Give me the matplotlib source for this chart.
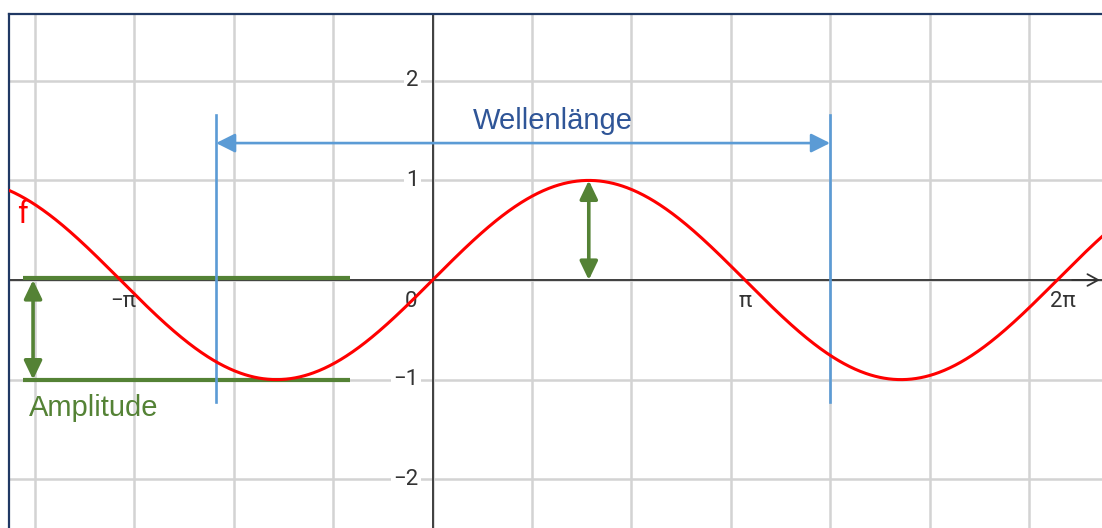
import numpy as np
import matplotlib
matplotlib.use("Agg")
import matplotlib.pyplot as plt

# ---- data ----
amplitude = 1.0
x_ticks = [-np.pi, 0, np.pi, 2 * np.pi]
x_tick_labels = ["\u2212\u03c0", "0", "\u03c0", "2\u03c0"]
y_ticks = [2, 1, -1, -2]
y_tick_labels = ["2", "1", "\u22121", "\u22122"]
wave_marker_x = [-2.179, 3.998]        # blue vertical markers
wave_marker_y = [-1.225, 1.657]
wave_arrow_y = 1.375
amp_lines_y = [0.02, -1.0]
amp_lines_x = [-4.12, -0.831]
amp_arrow_x = -4.02
peak_x = np.pi / 2

xmin, xmax = -4.262, 6.734
ymin, ymax = -2.490, 2.671

W, H = 1102, 528
fig = plt.figure(figsize=(W / 100, H / 100), dpi=100)
ax = fig.add_axes([9 / W, 0, (W - 9) / W, (H - 14) / H])
ax.set_xlim(xmin, xmax)
ax.set_ylim(ymin, ymax)

for s in ["right", "bottom"]:
    ax.spines[s].set_visible(False)
for s in ["left", "top"]:
    ax.spines[s].set_color("#203864")
    ax.spines[s].set_linewidth(1.6)
ax.set_xticks([])
ax.set_yticks([])

grid_c = "#d3d3d3"
for gx in range(-4, 7):
    ax.axvline(gx, color=grid_c, lw=1.8, zorder=0)
for gy in range(-2, 3):
    ax.axhline(gy, color=grid_c, lw=1.8, zorder=0)

axis_c = "#333333"
ax.axhline(0, color=axis_c, lw=1.3, zorder=1)
ax.axvline(0, color=axis_c, lw=1.3, zorder=1)
ax.annotate("", xy=(xmax - 0.02, 0), xytext=(xmax - 0.3, 0),
            arrowprops=dict(arrowstyle="->,head_length=0.55,head_width=0.3",
                            color=axis_c, lw=1.3, shrinkA=0, shrinkB=0,
                            mutation_scale=14), zorder=1)

font_tick = "Roboto"
x_label_shift = [0.03, -0.22, 0.0, 0.06]
for xt, lab, dx in zip(x_ticks, x_tick_labels, x_label_shift):
    ax.text(xt + dx, -0.22, lab, ha="center", va="center", fontsize=16,
            color="#333333", family=font_tick, zorder=2)
for yt, lab in zip(y_ticks, y_tick_labels):
    ax.text(-0.14, yt, lab, ha="right", va="center", fontsize=16,
            color="#333333", family=font_tick, zorder=2,
            bbox=dict(boxstyle="square,pad=0.1", fc="white", ec="none"))

# green amplitude lines & arrows
green = "#548235"
for yy in amp_lines_y:
    ax.plot(amp_lines_x, [yy, yy], color=green, lw=3.0, zorder=3,
            solid_capstyle="butt")
arrow_green = dict(arrowstyle="<|-|>,head_length=0.75,head_width=0.36",
                   color=green, lw=2.6, shrinkA=0, shrinkB=0,
                   mutation_scale=15)
ax.annotate("", xy=(amp_arrow_x, 0), xytext=(amp_arrow_x, -amplitude),
            arrowprops=arrow_green, zorder=3)
ax.annotate("", xy=(peak_x, amplitude), xytext=(peak_x, 0),
            arrowprops=arrow_green, zorder=3)
ax.text(-4.06, -1.285, "Amplitude", ha="left", va="center", fontsize=21,
        color=green, family="Liberation Sans", zorder=3)

# blue wavelength markers
blue = "#5b9bd5"
for wx in wave_marker_x:
    ax.plot([wx, wx], wave_marker_y, color=blue, lw=1.9, zorder=3)
ax.annotate("", xy=(wave_marker_x[0], wave_arrow_y),
            xytext=(wave_marker_x[1], wave_arrow_y),
            arrowprops=dict(arrowstyle="<|-|>,head_length=0.72,head_width=0.36",
                            color=blue, lw=1.9, shrinkA=0, shrinkB=0,
                            mutation_scale=16), zorder=3)
ax.text(1.21, 1.596, "Wellenl\u00e4nge", ha="center", va="center",
        fontsize=21, color="#2f5597", family="Liberation Sans", zorder=3)

# the function f(x) = sin(x)
xs = np.linspace(xmin, xmax, 1200)
ax.plot(xs, amplitude * np.sin(xs), color="#ff0000", lw=2.2, zorder=4)
ax.text(-4.13, 0.66, "f", ha="center", va="center", fontsize=22,
        color="#ff0000", family="Roboto", zorder=4)

fig.savefig("out.png", dpi=100)
